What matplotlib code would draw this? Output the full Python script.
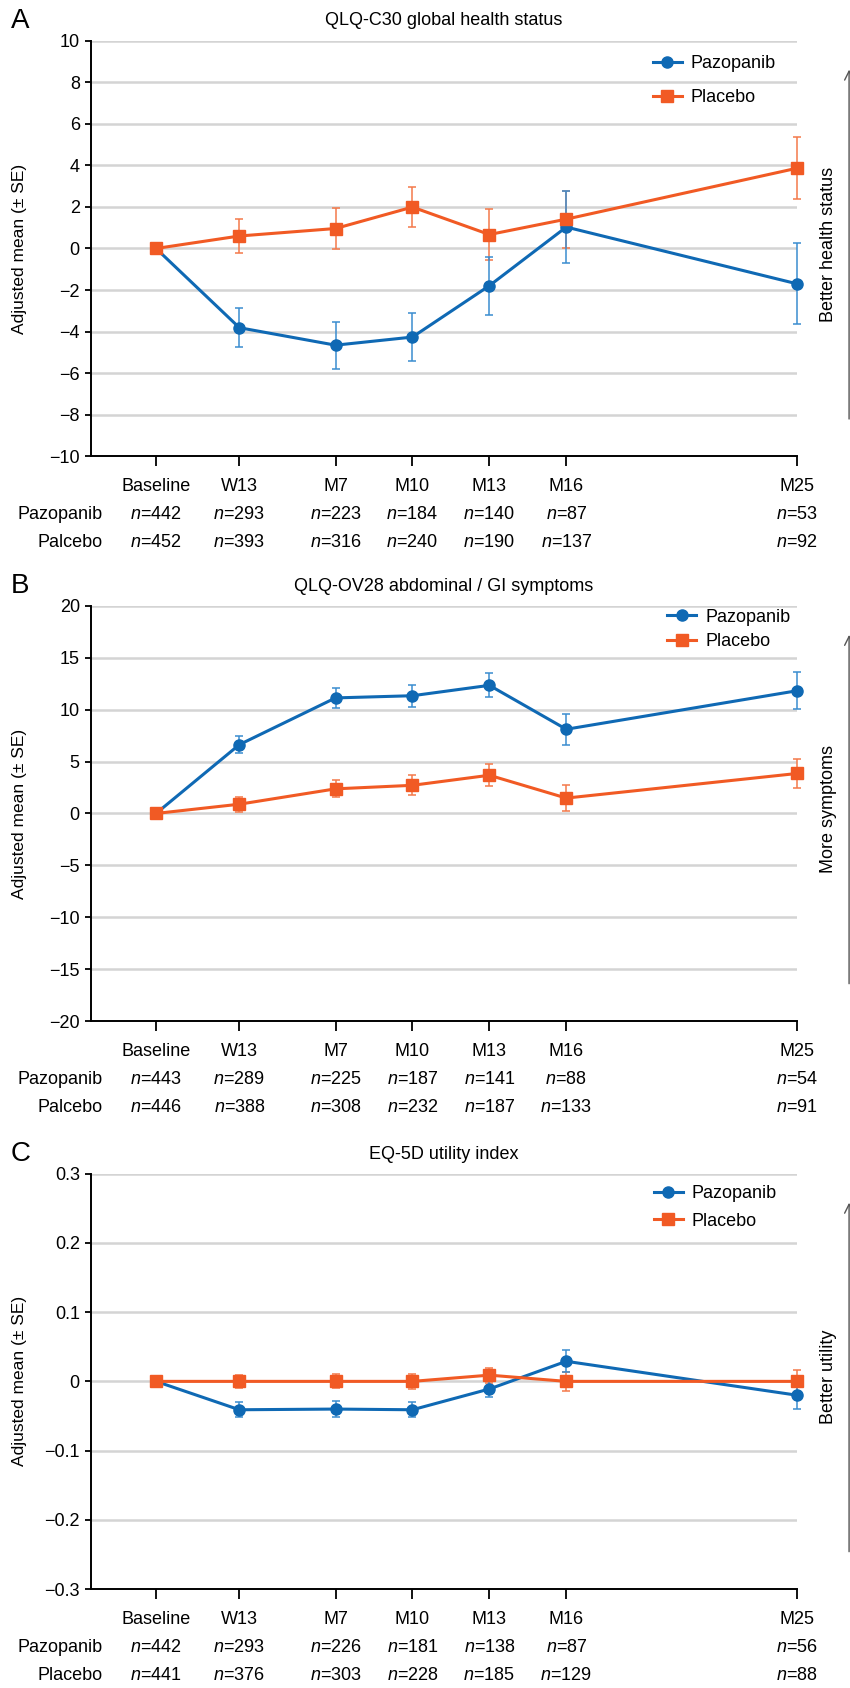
"""Adjusted mean change from baseline in patient-reported outcomes (pazopanib vs placebo)."""

import matplotlib

matplotlib.use("Agg")
import matplotlib.pyplot as plt
from matplotlib.lines import Line2D

plt.rcParams["font.family"] = ["Liberation Sans", "DejaVu Sans"]
plt.rcParams["mathtext.fontset"] = "custom"
plt.rcParams["mathtext.it"] = "Liberation Sans:italic"
plt.rcParams["mathtext.rm"] = "Liberation Sans"

# Assessment time points and their position in months from baseline.
timepoints = ["Baseline", "W13", "M7", "M10", "M13", "M16", "M25"]
months = [0, 3.25, 7, 10, 13, 16, 25]

# Panel A: QLQ-C30 global health status.
ghs_pazo = [0, -3.81, -4.65, -4.26, -1.79, 1.03, -1.70]
ghs_pazo_se = [0, 0.95, 1.13, 1.14, 1.40, 1.71, 1.94]
ghs_plac = [0, 0.60, 0.96, 1.99, 0.67, 1.41, 3.86]
ghs_plac_se = [0, 0.84, 0.97, 0.98, 1.22, 1.37, 1.48]
ghs_n_pazo = [442, 293, 223, 184, 140, 87, 53]
ghs_n_plac = [452, 393, 316, 240, 190, 137, 92]

# Panel B: QLQ-OV28 abdominal / GI symptoms.
gi_pazo = [0, 6.63, 11.13, 11.34, 12.34, 8.11, 11.82]
gi_pazo_se = [0, 0.79, 0.97, 1.08, 1.17, 1.51, 1.80]
gi_plac = [0, 0.89, 2.37, 2.71, 3.68, 1.48, 3.85]
gi_plac_se = [0, 0.72, 0.82, 0.96, 1.05, 1.24, 1.37]
gi_n_pazo = [443, 289, 225, 187, 141, 88, 54]
gi_n_plac = [446, 388, 308, 232, 187, 133, 91]

# Panel C: EQ-5D utility index.
eq_pazo = [0, -0.041, -0.040, -0.041, -0.011, 0.029, -0.020]
eq_pazo_se = [0, 0.011, 0.012, 0.011, 0.012, 0.016, 0.020]
eq_plac = [0, 0, 0, 0, 0.009, 0, 0]
eq_plac_se = [0, 0.009, 0.010, 0.011, 0.011, 0.014, 0.016]
eq_n_pazo = [442, 293, 226, 181, 138, 87, 56]
eq_n_plac = [441, 376, 303, 228, 185, 129, 88]

BLUE = "#0f69b4"
BLUE_ERR = "#3a8dd0"
ORANGE = "#f15a24"
ORANGE_ERR = "#f4794a"
GRID = "#d4d4d4"
FS = 13


def draw_panel(ax, letter, title, ylim, yticks, yticklabels, pazo, pazo_se, plac, plac_se,
               n_pazo, n_plac, plac_row, side_label, legend_anchor, legend_spacing):
    """Draw one adjusted-mean panel with error bars, n-at-risk rows and side label."""
    ax.set_xlim(-2.535, 25)
    ax.set_ylim(*ylim)
    ax.set_yticks(yticks)
    ax.set_yticklabels(yticklabels, fontsize=FS)
    ax.set_xticks(months)
    ax.set_xticklabels(timepoints, fontsize=FS)
    ax.tick_params(axis="x", length=7.5, width=1.3, pad=8, direction="out")
    ax.tick_params(axis="y", length=4.5, width=1.3, pad=3.6, direction="out")
    ax.grid(axis="y", color=GRID, linewidth=1.8, zorder=0)
    ax.set_axisbelow(True)
    for side in ("top", "right"):
        ax.spines[side].set_visible(False)
    for side in ("left", "bottom"):
        ax.spines[side].set_linewidth(1.4)
        ax.spines[side].set_zorder(1)

    # Error bars first so the lines and markers sit on top.
    ax.errorbar(months[1:], plac[1:], yerr=plac_se[1:], fmt="none", ecolor=ORANGE_ERR,
                elinewidth=1.1, capsize=3, capthick=1.1, zorder=3, clip_on=False)
    ax.errorbar(months[1:], pazo[1:], yerr=pazo_se[1:], fmt="none", ecolor=BLUE_ERR,
                elinewidth=1.1, capsize=3, capthick=1.1, zorder=3, clip_on=False)
    ax.plot(months, pazo, color=BLUE, lw=2.2, marker="o", ms=8, zorder=4, clip_on=False)
    ax.plot(months, plac, color=ORANGE, lw=2.2, marker="s", ms=9, zorder=5, clip_on=False)

    ax.set_ylabel("Adjusted mean (± SE)", fontsize=12.5)
    ax.yaxis.set_label_coords(-0.09, 0.5)
    ax.text(0.5, 1.047, title, transform=ax.transAxes, ha="center", va="center", fontsize=FS)
    ax.text(-0.1, 1.047, letter, transform=ax.transAxes, ha="center", va="center", fontsize=20)

    # Number of patients under each time point.
    trans = ax.get_xaxis_transform()
    for y, name, counts in ((-0.14, "Pazopanib", n_pazo), (-0.207, plac_row, n_plac)):
        ax.text(-2.1, y, name, transform=trans, ha="right", va="center", fontsize=FS)
        for xm, cnt in zip(months, counts):
            ax.text(xm, y, rf"$\mathit{{n}}$={cnt}", transform=trans, ha="center",
                    va="center", fontsize=FS)

    ax.text(1.044, 0.51, side_label, transform=ax.transAxes, rotation=90, ha="center",
            va="center", fontsize=13)
    ax.annotate("", xy=(1.0737, 0.93), xytext=(1.0737, 0.09), xycoords="axes fraction",
                arrowprops=dict(arrowstyle="->", color="#555555", lw=1.0, mutation_scale=16,
                                shrinkA=0, shrinkB=0), annotation_clip=False)

    handles = [
        Line2D([], [], color=BLUE, lw=2.2, marker="o", ms=8),
        Line2D([], [], color=ORANGE, lw=2.2, marker="s", ms=9),
    ]
    ax.legend(handles, ["Pazopanib", "Placebo"], loc="upper left", bbox_to_anchor=legend_anchor,
              frameon=False, fontsize=FS, borderpad=0, handlelength=1.6, handletextpad=0.5,
              labelspacing=legend_spacing, borderaxespad=0)


fig = plt.figure(figsize=(8.5, 16.88), dpi=100)
ax_a = fig.add_axes([0.1071, 0.7296, 0.8306, 0.2464])
ax_b = fig.add_axes([0.1071, 0.3951, 0.8306, 0.2460])
ax_c = fig.add_axes([0.1071, 0.0586, 0.8306, 0.2461])

ticks_a = [-10, -8, -6, -4, -2, 0, 2, 4, 6, 8, 10]
draw_panel(ax_a, "A", "QLQ-C30 global health status", (-10, 10), ticks_a,
           [str(t).replace("-", "\u2212") for t in ticks_a],
           ghs_pazo, ghs_pazo_se, ghs_plac, ghs_plac_se, ghs_n_pazo, ghs_n_plac,
           "Palcebo", "Better health status", (0.796, 0.965), 0.95)

ticks_b = [-20, -15, -10, -5, 0, 5, 10, 15, 20]
draw_panel(ax_b, "B", "QLQ-OV28 abdominal / GI symptoms", (-20, 20), ticks_b,
           [str(t).replace("-", "\u2212") for t in ticks_b],
           gi_pazo, gi_pazo_se, gi_plac, gi_plac_se, gi_n_pazo, gi_n_plac,
           "Palcebo", "More symptoms", (0.816, 0.993), 0.4)

ticks_c = [-0.3, -0.2, -0.1, 0, 0.1, 0.2, 0.3]
labels_c = ["\u22120.3", "\u22120.2", "\u22120.1", "0", "0.1", "0.2", "0.3"]
draw_panel(ax_c, "C", "EQ-5D utility index", (-0.3, 0.3), ticks_c, labels_c,
           eq_pazo, eq_pazo_se, eq_plac, eq_plac_se, eq_n_pazo, eq_n_plac,
           "Placebo", "Better utility", (0.797, 0.973), 0.6)

fig.savefig("out.png", dpi=100)
